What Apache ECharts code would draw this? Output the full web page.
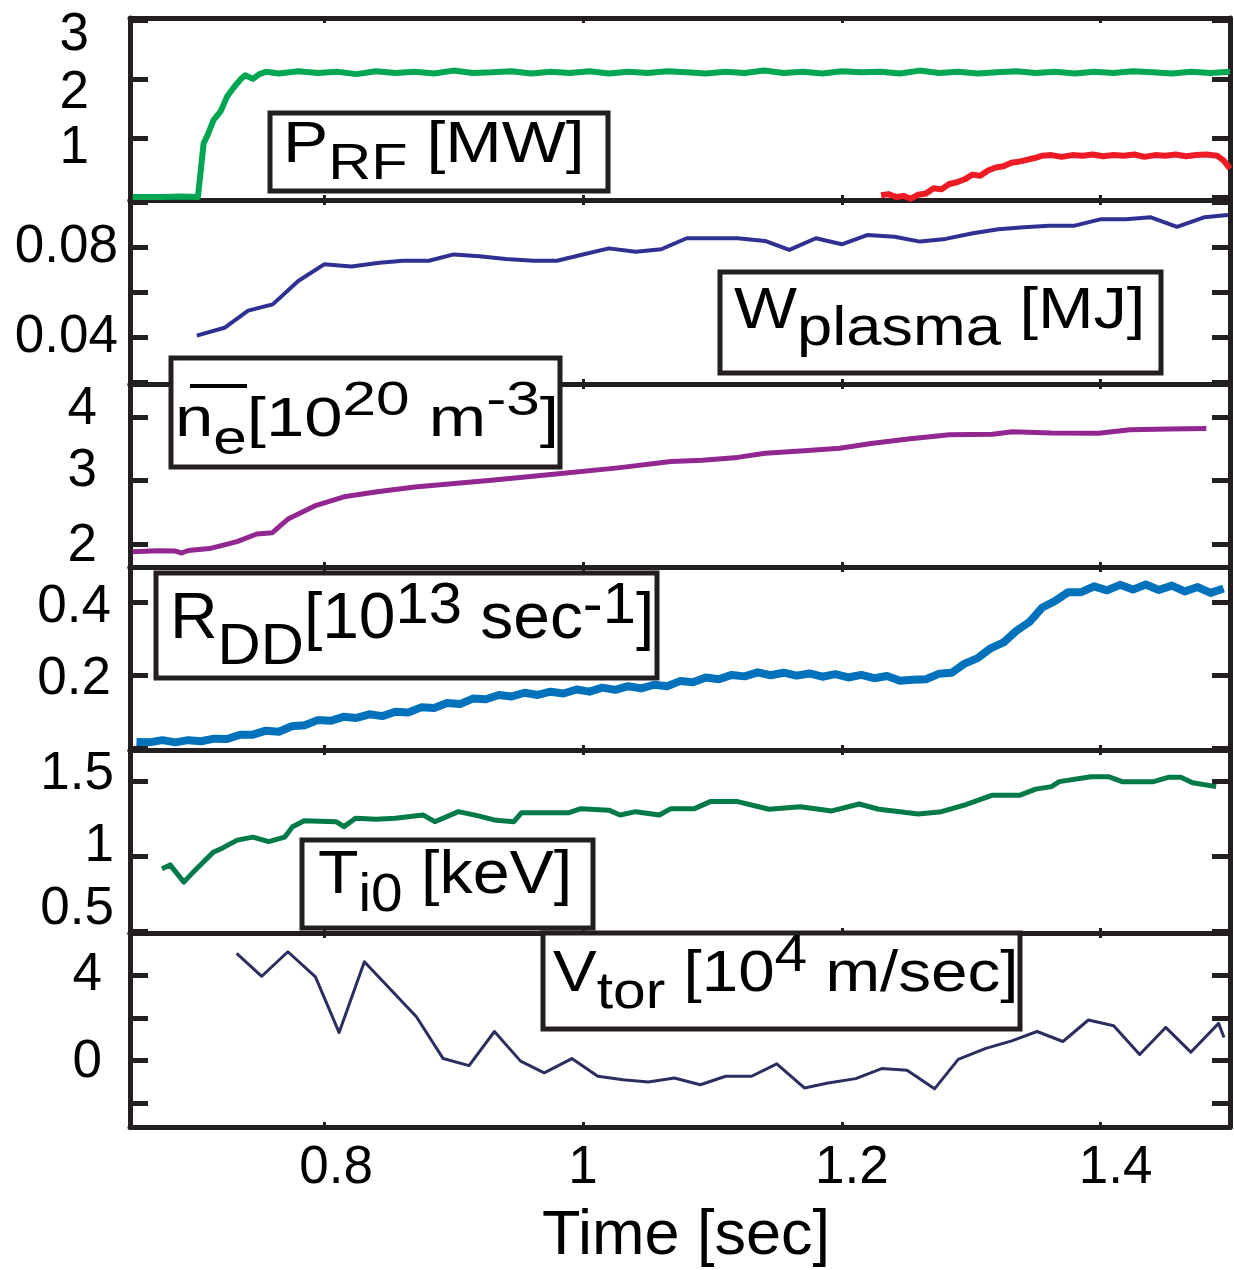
<!DOCTYPE html>
<html>
<head>
<meta charset="utf-8">
<script src="https://cdn.jsdelivr.net/npm/echarts@6/dist/echarts.min.js"></script>
<style>
html, body { margin: 0; padding: 0; background: #fff; }
#container { width: 1234px; height: 1270px; }
</style>
</head>
<body>
<div id="container"></div>
<script>
// ---- data: [time (s), value] ----
const prfMain = [[0.652,0.0],[0.675,0.0],[0.69,0.01],[0.7025,0.0],[0.7069,0.91],[0.71,1.05],[0.7145,1.3],[0.72,1.45],
  [0.725,1.7],[0.73,1.85],[0.7358,2.0],[0.739,2.06],[0.745,2.0],[0.75,2.08],[0.755,2.12],[0.765,2.09],[0.78,2.13],
  [0.795,2.10],[0.81,2.12],[0.825,2.08],[0.84,2.13],[0.855,2.10],[0.87,2.12],[0.885,2.09],[0.9,2.14],[0.915,2.10],
  [0.93,2.11],[0.945,2.13],[0.96,2.09],[0.975,2.12],[0.99,2.10],[1.005,2.13],[1.02,2.09],[1.035,2.12],[1.05,2.10],
  [1.065,2.13],[1.08,2.11],[1.095,2.09],[1.11,2.12],[1.125,2.10],[1.14,2.14],[1.155,2.10],[1.17,2.12],[1.185,2.09],
  [1.2,2.13],[1.215,2.11],[1.23,2.12],[1.245,2.09],[1.26,2.14],[1.275,2.10],[1.29,2.12],[1.305,2.09],[1.32,2.11],
  [1.335,2.13],[1.35,2.10],[1.365,2.12],[1.38,2.09],[1.395,2.12],[1.41,2.10],[1.425,2.13],[1.44,2.11],[1.455,2.09],
  [1.47,2.12],[1.485,2.10],[1.5,2.12]];
const prfSecond = [[1.2304,0.03],[1.236,0.05],[1.242,0.0],[1.248,0.02],[1.253,-0.03],[1.259,0.04],[1.265,0.06],
  [1.271,0.15],[1.277,0.13],[1.283,0.22],[1.289,0.25],[1.295,0.30],[1.301,0.38],[1.307,0.36],[1.313,0.45],
  [1.319,0.50],[1.325,0.52],[1.331,0.58],[1.337,0.60],[1.343,0.63],[1.349,0.66],[1.355,0.70],[1.362,0.71],
  [1.37,0.68],[1.378,0.71],[1.386,0.70],[1.394,0.72],[1.402,0.69],[1.41,0.71],[1.418,0.70],[1.426,0.72],
  [1.434,0.68],[1.442,0.71],[1.45,0.70],[1.458,0.72],[1.466,0.69],[1.474,0.71],[1.482,0.72],[1.49,0.70],
  [1.495,0.62],[1.5,0.48]];
const wPlasma = [[0.7016,0.0409],[0.723,0.0444],[0.7413,0.052],[0.7603,0.0548],[0.780,0.0652],[0.800,0.0726],
  [0.821,0.0716],[0.8428,0.0733],[0.861,0.0742],[0.881,0.0742],[0.9002,0.077],[0.92,0.0762],[0.9404,0.075],
  [0.9619,0.0742],[0.980,0.0742],[1.000,0.077],[1.020,0.0797],[1.0408,0.0782],[1.0605,0.0793],[1.0802,0.0842],
  [1.1195,0.0842],[1.1407,0.083],[1.1595,0.079],[1.180,0.0842],[1.200,0.0815],[1.2196,0.0856],[1.2408,0.0849],
  [1.2605,0.0827],[1.2801,0.0839],[1.3013,0.0864],[1.321,0.0882],[1.3408,0.0891],[1.3604,0.0898],[1.380,0.0898],
  [1.3997,0.0926],[1.4196,0.0926],[1.4389,0.0935],[1.459,0.0893],[1.480,0.0935],[1.4984,0.0945]];
const neBar = [[0.652,1.88],[0.6716,1.895],[0.685,1.89],[0.690,1.86],[0.695,1.90],[0.7114,1.93],[0.7327,2.04],
  [0.748,2.16],[0.760,2.18],[0.7725,2.40],[0.7939,2.61],[0.8153,2.745],[0.8397,2.82],[0.870,2.90],[0.9008,2.955],
  [0.9313,3.01],[0.9772,3.10],[1.027,3.20],[1.068,3.30],[1.0923,3.32],[1.1195,3.365],[1.1407,3.43],[1.171,3.47],
  [1.1984,3.51],[1.2226,3.585],[1.2529,3.66],[1.2832,3.72],[1.3165,3.73],[1.3318,3.77],[1.362,3.75],[1.3984,3.745],
  [1.4227,3.80],[1.453,3.81],[1.4817,3.82]];
const rDD = [[0.655,0.017],[0.665,0.016],[0.675,0.022],[0.685,0.016],[0.695,0.022],[0.705,0.019],[0.715,0.026],
  [0.725,0.025],[0.735,0.037],[0.745,0.037],[0.755,0.048],[0.765,0.045],[0.775,0.060],[0.785,0.063],[0.795,0.077],
  [0.805,0.075],[0.815,0.086],[0.825,0.083],[0.835,0.093],[0.845,0.088],[0.855,0.100],[0.865,0.098],[0.875,0.112],
  [0.885,0.110],[0.895,0.124],[0.905,0.121],[0.915,0.136],[0.925,0.134],[0.935,0.146],[0.945,0.142],[0.955,0.152],
  [0.965,0.146],[0.975,0.155],[0.985,0.150],[0.995,0.161],[1.005,0.155],[1.015,0.166],[1.025,0.160],[1.035,0.170],
  [1.045,0.164],[1.055,0.174],[1.065,0.170],[1.075,0.184],[1.085,0.181],[1.095,0.194],[1.105,0.189],[1.115,0.201],
  [1.125,0.197],[1.135,0.208],[1.145,0.200],[1.155,0.207],[1.165,0.199],[1.175,0.205],[1.185,0.196],[1.195,0.203],
  [1.205,0.194],[1.215,0.201],[1.225,0.192],[1.235,0.198],[1.245,0.185],[1.255,0.188],[1.265,0.189],[1.275,0.204],
  [1.285,0.207],[1.295,0.232],[1.305,0.247],[1.315,0.274],[1.325,0.290],[1.335,0.322],[1.345,0.346],[1.355,0.386],
  [1.365,0.404],[1.375,0.428],[1.385,0.428],[1.395,0.444],[1.405,0.433],[1.415,0.448],[1.425,0.435],[1.435,0.449],
  [1.445,0.434],[1.455,0.446],[1.465,0.430],[1.475,0.442],[1.485,0.426],[1.495,0.438]];
const tI0 = [[0.6747,0.92],[0.681,0.945],[0.6916,0.83],[0.6992,0.90],[0.705,0.95],[0.7144,1.03],[0.722,1.06],
  [0.7328,1.11],[0.745,1.13],[0.7572,1.10],[0.7695,1.13],[0.7756,1.20],[0.7847,1.24],[0.8092,1.233],[0.8153,1.20],
  [0.8244,1.256],[0.84,1.25],[0.855,1.256],[0.8764,1.278],[0.8855,1.233],[0.9038,1.30],[0.92,1.27],[0.9313,1.245],
  [0.9466,1.233],[0.9526,1.293],[0.9893,1.293],[0.9984,1.32],[1.02,1.31],[1.0287,1.278],[1.0408,1.30],[1.059,1.278],
  [1.068,1.32],[1.0862,1.32],[1.0984,1.367],[1.1195,1.367],[1.1438,1.316],[1.168,1.333],[1.1923,1.305],[1.2135,1.351],
  [1.2286,1.316],[1.245,1.30],[1.259,1.285],[1.2771,1.30],[1.2953,1.345],[1.3165,1.41],[1.3378,1.41],[1.3499,1.45],
  [1.362,1.467],[1.368,1.50],[1.3925,1.533],[1.4061,1.533],[1.4166,1.50],[1.4408,1.50],[1.453,1.53],[1.462,1.53],
  [1.4711,1.493],[1.4893,1.467]];
const vTor = [[0.7324,5.02],[0.7518,3.95],[0.772,5.10],[0.7933,3.92],[0.8116,1.31],[0.8311,4.63],[0.8713,2.05],
  [0.892,0.09],[0.912,-0.24],[0.9316,1.36],[0.9518,-0.03],[0.9701,-0.58],[0.9914,0.09],[1.0115,-0.74],[1.031,-0.9],
  [1.0505,-1.01],[1.0706,-0.82],[1.0907,-1.14],[1.1103,-0.74],[1.1303,-0.74],[1.1498,-0.16],[1.1711,-1.29],
  [1.1894,-1.06],[1.2108,-0.85],[1.2308,-0.38],[1.2504,-0.46],[1.2717,-1.33],[1.29,0.05],[1.3113,0.57],[1.3314,0.92],
  [1.3509,1.36],[1.3709,0.89],[1.3906,1.90],[1.4101,1.63],[1.4302,0.28],[1.4503,1.55],[1.4697,0.39],[1.4912,1.74],
  [1.4954,1.08]];

// axis ticks and labels
const xTickValues = [0.8, 1, 1.2, 1.4];
const yTickValues = [[0, 1, 2, 3], [0.02, 0.04, 0.06, 0.08, 0.1], [2, 3, 4], [0, 0.2, 0.4], [0.5, 1, 1.5], [-2, 0, 2, 4]];
const yLabelValues = [[1, 2, 3], [0.04, 0.08], [2, 3, 4], [0.2, 0.4], [0.5, 1, 1.5], [0, 4]];

// ---- layout / style ----
const frameColor = '#231f20';
const fontFamily = '"Liberation Sans", Arial, Helvetica, sans-serif';
const panels = [
    {top: 18, height: 182, min: -0.05, max: 3.03, margin: 41, shift: {1: 10, 2: 15, 3: 16}},
    {top: 200, height: 184, min: 0.0194, max: 0.1012, margin: 12, shift: {}},
    {top: 384, height: 183, min: 1.64, max: 4.52, margin: 33, shift: {4: -8, 3: -9, 2: 2}},
    {top: 567, height: 183, min: -0.005, max: 0.497, margin: 19, shift: {0.4: 5, 0.2: 4}},
    {top: 750, height: 183, min: 0.491, max: 1.711, margin: 16, shift: {1.5: -7, 1: -10, 0.5: -22}},
    {top: 933, height: 194, min: -3.12, max: 5.98, margin: 28, shift: {0: 2}}
];
const xShift = {0.8: 12, 1: 0, 1.2: 10, 1.4: 15};

const seriesDefs = [
    {data: prfMain, panel: 0, color: '#00a651', width: 6},
    {data: prfSecond, panel: 0, color: '#ed1c24', width: 6},
    {data: wPlasma, panel: 1, color: '#2e3192', width: 4},
    {data: neBar, panel: 2, color: '#92278f', width: 5},
    {data: rDD, panel: 3, color: '#0072bc', width: 8},
    {data: tI0, panel: 4, color: '#007a47', width: 5},
    {data: vTor, panel: 5, color: '#2b2e5e', width: 3}
];

let dom = document.getElementById('container');
let myChart = echarts.init(dom);

let grids = [], xAxes = [], yAxes = [];

panels.forEach(function (p, i) {
    grids.push({left: 130, width: 1100, top: p.top, height: p.height, outerBoundsMode: 'none'});
    let lastPanel = i === panels.length - 1;
    ['bottom', 'top'].forEach(function (pos) {
        let withLabels = lastPanel && pos === 'bottom';
        let xRich = {};
        xTickValues.forEach(function (v, k) {
            xRich['x' + k] = {fontSize: 53, fontFamily: fontFamily, color: '#000', padding: [0, 0, 0, 2 * (xShift[v] || 0)]};
        });
        xAxes.push({
            type: 'value', gridIndex: i, position: pos, min: 0.65, max: 1.5,
            axisLine: {show: true, onZero: false, lineStyle: {color: frameColor, width: 5}},
            axisTick: {show: true, inside: true, length: 5, customValues: xTickValues, lineStyle: {color: frameColor, width: 3}},
            axisLabel: {
                show: withLabels, customValues: xTickValues, margin: 15,
                formatter: function (v) { return '{x' + xTickValues.indexOf(v) + '|' + v + '}'; },
                rich: xRich
            },
            splitLine: {show: false},
            name: withLabels ? 'Time [sec]' : '',
            nameLocation: 'middle', nameGap: 78,
            nameTextStyle: {fontSize: 63, fontFamily: fontFamily, color: '#000', padding: [0, 0, 0, 12]}
        });
    });
    ['left', 'right'].forEach(function (pos) {
        let labels = yLabelValues[i];
        let rich = {};
        labels.forEach(function (v, k) {
            let dy = p.shift[v] || 0;
            rich['l' + k] = {
                fontSize: 53, fontFamily: fontFamily, color: '#000',
                padding: dy >= 0 ? [2 * dy, 0, 0, 0] : [0, 0, -2 * dy, 0]
            };
        });
        yAxes.push({
            type: 'value', gridIndex: i, position: pos, min: p.min, max: p.max,
            axisLine: {show: true, onZero: false, lineStyle: {color: frameColor, width: 5}},
            axisTick: {show: true, inside: true, length: 18, customValues: yTickValues[i], lineStyle: {color: frameColor, width: 5}},
            axisLabel: {
                show: pos === 'left', customValues: labels, margin: p.margin,
                formatter: function (v) { return '{l' + labels.indexOf(v) + '|' + v + '}'; },
                rich: rich
            },
            splitLine: {show: false}
        });
    });
});

let series = seriesDefs.map(function (s) {
    return {
        type: 'line', xAxisIndex: 2 * s.panel, yAxisIndex: 2 * s.panel,
        data: s.data, symbol: 'none', showSymbol: false, clip: true,
        lineStyle: {color: s.color, width: s.width, join: 'round'},
        emphasis: {disabled: true}, z: 3
    };
});

// boxed quantity labels, rich text with sub/superscripts
function makeBox(b) {
    const pm = 30;
    const tok = function (fs, d) {
        return {
            fontSize: fs, fontFamily: fontFamily, font: fs + 'px ' + fontFamily, fill: '#000',
            height: 60, lineHeight: 130, verticalAlign: 'top',
            padding: [pm + 0.347 * (b.fm - fs) + d, 0, 0, 0]
        };
    };
    return [
        {type: 'rect', shape: {x: b.x, y: b.y, width: b.w, height: b.h},
            style: {fill: '#fff', stroke: frameColor, lineWidth: 5}, z: 100},
        {type: 'text', x: b.tx, y: b.base - pm - 30 - 0.347 * b.fm, scaleX: b.sx, z: 101,
            style: {text: b.text, align: 'left', verticalAlign: 'top',
                fontSize: b.fm, fontFamily: fontFamily, font: b.fm + 'px ' + fontFamily, fill: '#000',
                rich: {m: tok(b.fm, 0), s: tok(b.fs, b.dSub || 0), u: tok(b.fs, -(b.dSup || 0))}}}
    ];
}

const boxes = [
    {x: 270, y: 113, w: 338, h: 78, tx: 283, base: 166, fm: 57, fs: 50, dSub: 17, sx: 1.19,
        text: '{m|P}{s|RF}{m| [MW]}'},
    {x: 720, y: 272, w: 441, h: 101, tx: 734, base: 332, fm: 58, fs: 55, dSub: 17, sx: 1.15,
        text: '{m|W}{s|plasma}{m| [MJ]}'},
    {x: 171, y: 358, w: 389, h: 109, tx: 175, base: 440, fm: 56, fs: 49, dSub: 17, dSup: 22, sx: 1.23,
        text: '{m|n}{s|e}{m|[10}{u|20}{m| m}{u|-3}{m|]}'},
    {x: 156, y: 573, w: 501, h: 105, tx: 170, base: 643, fm: 64, fs: 58, dSub: 25, dSup: 16, sx: 1.03,
        text: '{m|R}{s|DD}{m|[10}{u|13}{m| sec}{u|-1}{m|]}'},
    {x: 302, y: 840, w: 291, h: 88, tx: 318, base: 897, fm: 62, fs: 53, dSub: 18, sx: 1.07,
        text: '{m|T}{s|i0}{m| [keV]}'},
    {x: 543, y: 933, w: 477, h: 96, tx: 553, base: 995, fm: 58, fs: 52, dSub: 17, dSup: 20, sx: 1.13,
        text: '{m|V}{s|tor}{m| [10}{u|4}{m| m/sec]}'}
];

let graphics = [];
boxes.forEach(function (b) { graphics = graphics.concat(makeBox(b)); });
// overline of the line-averaged density symbol
graphics.push({type: 'rect', shape: {x: 190, y: 384, width: 57, height: 4}, style: {fill: '#000'}, z: 102});

let option = {
    animation: false,
    backgroundColor: '#fff',
    grid: grids,
    xAxis: xAxes,
    yAxis: yAxes,
    series: series,
    graphic: {elements: graphics}
};

myChart.setOption(option);
</script>
</body>
</html>
